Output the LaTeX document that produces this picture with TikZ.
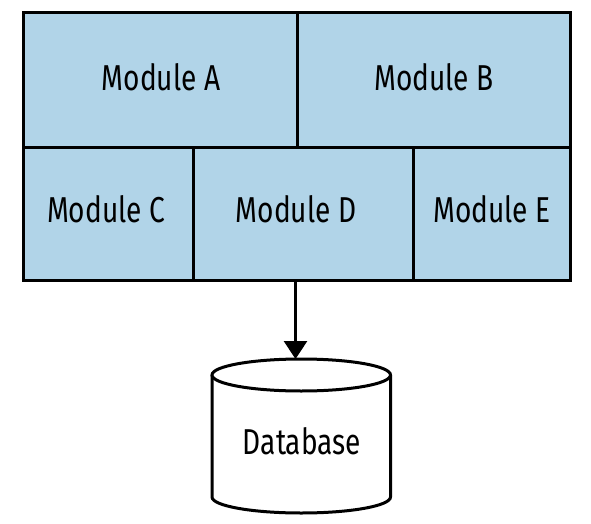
\documentclass[tikz,border=0pt]{standalone}
\usepackage{fontspec}
\setmainfont{Fira Sans}[FakeStretch=0.78]
\usetikzlibrary{arrows.meta}
\definecolor{modblue}{RGB}{177,212,232}
\tikzset{
  module/.style={draw=black, line width=3pt, fill=modblue, inner sep=0pt, anchor=north west},
  modtext/.style={font=\fontsize{36}{38}\selectfont, text=black, inner sep=0pt},
  conn/.style={line width=3pt, -{Triangle[width=23pt,length=18pt]}}
}
\begin{document}
\begin{tikzpicture}[x=1pt,y=-1pt]
\useasboundingbox (0,0) rectangle (591,524);
% modules
\node[module, minimum width=273.5pt, minimum height=134.5pt] (A) at (22,11) {};
\node[module, minimum width=273pt, minimum height=134.5pt] (B) at (295.5,11) {};
\node[module, minimum width=169.5pt, minimum height=133.5pt] (C) at (22,145.5) {};
\node[module, minimum width=220pt, minimum height=133.5pt] (D) at (191.5,145.5) {};
\node[module, minimum width=157pt, minimum height=133.5pt] (E) at (411.5,145.5) {};
\node[modtext] (tA) at (161,77) {Module A};
\node[modtext] (tB) at (434,77) {Module B};
\node[modtext] (tC) at (106,209) {Module C};
\node[modtext] (tD) at (296,209) {Module D};
\node[modtext] (tE) at (492,209) {Module E};
% database cylinder
\filldraw[fill=white, line width=3pt] (212,375) -- (212,497) arc[start angle=180, end angle=0, x radius=89.25, y radius=16] -- (390.5,375);
\filldraw[fill=white, line width=3pt] (301.25,375) ellipse[x radius=89.25, y radius=16];
\coordinate (dbtop) at (295.5,359);
\node[modtext] (db) at (302,441) {Database};
\draw[conn] (D.south -| B.west) -- (dbtop);
\end{tikzpicture}
\end{document}
